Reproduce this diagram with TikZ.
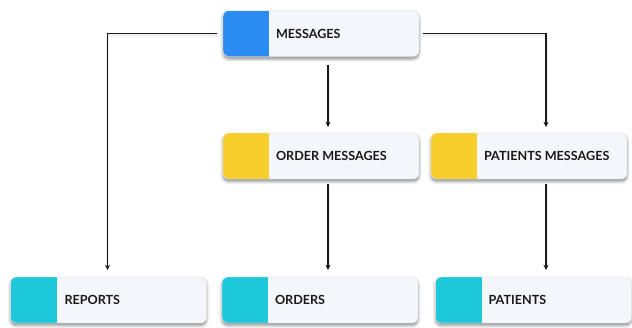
\documentclass[tikz,border=0pt]{standalone}
\usepackage{fontspec}
\setmainfont{Lato}
\usetikzlibrary{shadows.blur,arrows.meta}
\definecolor{boxbg}{HTML}{F3F6FA}
\definecolor{cblue}{HTML}{2B8CF3}
\definecolor{cyellow}{HTML}{F8CE2C}
\definecolor{ccyan}{HTML}{1CC8DA}
\tikzset{
  card/.style={draw=black!12, line width=0.4pt, fill=boxbg, rounded corners=6pt,
    minimum width=196pt, minimum height=46pt, inner sep=0pt,
    blur shadow={shadow xshift=0pt, shadow yshift=-2.5pt, shadow blur radius=3pt, shadow opacity=45},
    path picture={\fill[#1, sharp corners] (path picture bounding box.north west) rectangle
      ([xshift=46pt]path picture bounding box.south west);}},
  lbl/.style={anchor=west, inner sep=0pt, font=\bfseries\fontsize{12.6}{14}\selectfont, text=black!90},
  conn/.style={line width=1.5pt, black!90,
    preaction={draw=black!6, line width=3pt, transform canvas={yshift=-1.5pt}}},
  tip/.style={-{Stealth[length=5pt,width=5pt]}}
}
\begin{document}
\begin{tikzpicture}[x=1pt,y=-1pt]
\useasboundingbox (0,0) rectangle (632,327);
% cards
\node[card=cblue]   (msg)  at (321,33.5) {};
\node[card=cyellow] (ordm) at (321,156) {};
\node[card=cyellow] (patm) at (529,156) {};
\node[card=ccyan]   (rep)  at (108.5,300) {};
\node[card=ccyan]   (ord)  at (320,300) {};
\node[card=ccyan]   (pat)  at (533.5,300) {};
% labels
\node[lbl] (tmsg)  at ([xshift=53pt]msg.west)  {MESSAGES};
\node[lbl] (tordm) at ([xshift=53pt]ordm.west) {ORDER MESSAGES};
\node[lbl] (tpatm) at ([xshift=53pt]patm.west) {PATIENTS MESSAGES};
\node[lbl] (trep)  at ([xshift=54pt]rep.west)  {REPORTS};
\node[lbl] (tord)  at ([xshift=53pt]ord.west)  {ORDERS};
\node[lbl] (tpat)  at ([xshift=53pt]pat.west)  {PATIENTS};
% connector columns
\coordinate (colL) at (107.5,0);
\coordinate (colM) at (328,0);
\coordinate (colR) at (546,0);
% connectors
\draw[conn,tip] ([xshift=-6pt]msg.west) -| ([yshift=7pt]rep.north -| colL);
\draw[conn,tip] ([xshift=4pt]msg.east) -| ([yshift=6pt]patm.north -| colR);
\draw[conn,tip] ([yshift=-8pt]msg.south -| colM) -- ([yshift=6pt]ordm.north -| colM);
\draw[conn,tip] ([yshift=-5pt]ordm.south -| colM) -- ([yshift=7pt]ord.north -| colM);
\draw[conn,tip] ([yshift=-5pt]patm.south -| colR) -- ([yshift=7pt]pat.north -| colR);
\end{tikzpicture}
\end{document}
